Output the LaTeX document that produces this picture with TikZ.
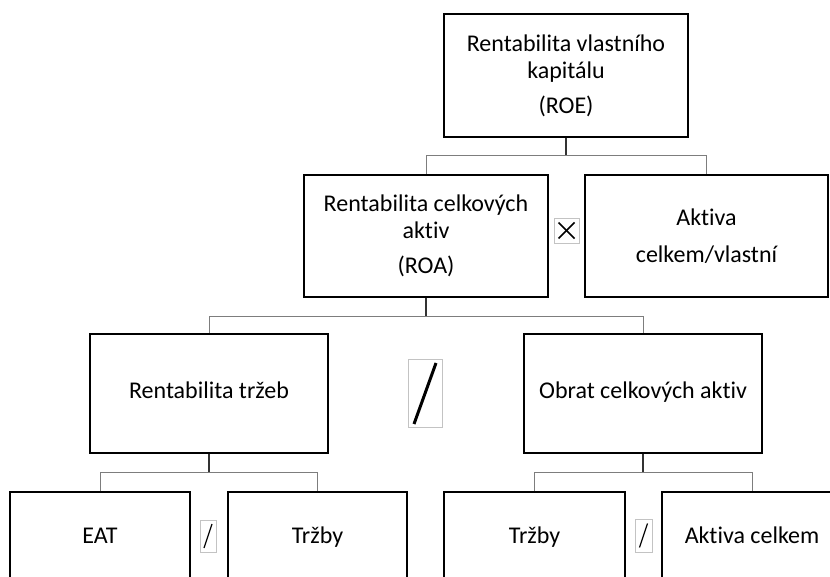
\documentclass[tikz,border=0pt]{standalone}
\usepackage{fontspec}
\setmainfont{Carlito}[Ligatures=NoCommon]
\usetikzlibrary{calc}
\definecolor{linkgray}{RGB}{125,125,125}
\definecolor{opgray}{RGB}{195,195,195}
\tikzset{
  box/.style={draw=black, line width=1.5pt, align=center, inner sep=0pt},
  opbox/.style={draw=opgray, line width=0.8pt, inner sep=0pt},
  stem/.style={draw=black!80, line width=1.1pt},
  branch/.style={draw=linkgray, line width=1pt},
}
\begin{document}
\begin{tikzpicture}[x=1pt, y=-1pt, font=\fontsize{24}{27}\selectfont]
      \clip (0,0) rectangle (830,577);
      \fill[white] (0,0) rectangle (830,577);
      % boxes
      \node[box, minimum width=244pt, minimum height=123pt] (roe) at (566,75.5) {Rentabilita vlastního\\kapitálu\\[8pt](ROE)};
      \node[box, minimum width=244pt, minimum height=122pt] (roa) at (426,236) {Rentabilita celkových\\aktiv\\[8pt](ROA)};
      \node[box, minimum width=243pt, minimum height=122pt] (akt) at (706.5,236) {Aktiva\\[10pt]celkem/vlastní};
      \node[box, minimum width=238pt, minimum height=119pt] (rt) at (209,393.5) {\strut Rentabilita tržeb};
      \node[box, minimum width=238pt, minimum height=119pt] (obrat) at (643,393.5) {\strut Obrat celkových aktiv};
      \node[box, minimum width=180pt, minimum height=92pt] (eat) at (100,538) {\strut EAT};
      \node[box, minimum width=179pt, minimum height=92pt] (trzbyA) at (317.5,538) {\strut Tržby};
      \node[box, minimum width=181pt, minimum height=92pt] (trzbyB) at (534.5,538) {\strut Tržby};
      \node[box, minimum width=180pt, minimum height=92pt] (aktc) at (752,538) {\strut Aktiva celkem};
      % operators
      \node[opbox, minimum width=25pt, minimum height=25pt] (krat) at (566.5,230.5) {};
      \draw[line width=1.6pt] ($(krat.center)+(-8,-8)$) -- ($(krat.center)+(8,8)$);
      \draw[line width=1.6pt] ($(krat.center)+(-8,8)$) -- ($(krat.center)+(8,-8)$);
      \node[opbox, minimum width=34pt, minimum height=68pt] (deleni) at (425,393) {};
      \draw[line width=3pt] ($(deleni.center)+(-11,31)$) -- ($(deleni.center)+(11,-30)$);
      \node[opbox, minimum width=16pt, minimum height=32pt] (delA) at (208,536) {};
      \draw[line width=1.2pt] ($(delA.center)+(-4,12)$) -- ($(delA.center)+(4,-12)$);
      \node[opbox, minimum width=17pt, minimum height=33pt] (delB) at (643.5,535.5) {};
      \draw[line width=1.2pt] ($(delB.center)+(-4,12)$) -- ($(delB.center)+(4,-12)$);
      % connectors
      \draw[stem] (roe.south) -- ++(0,18) coordinate (j1);
      \draw[branch] (roa.north) |- (j1) -| (akt.north);
      \draw[stem] (roa.south) -- ++(0,19) coordinate (j2);
      \draw[branch] (rt.north) |- (j2) -| (obrat.north);
      \draw[stem] (rt.south) -- ++(0,19) coordinate (j3);
      \draw[branch] (eat.north) |- (j3) -| (trzbyA.north);
      \draw[stem] (obrat.south) -- ++(0,19) coordinate (j4);
      \draw[branch] (trzbyB.north) |- (j4) -| (aktc.north);
\end{tikzpicture}
\end{document}
